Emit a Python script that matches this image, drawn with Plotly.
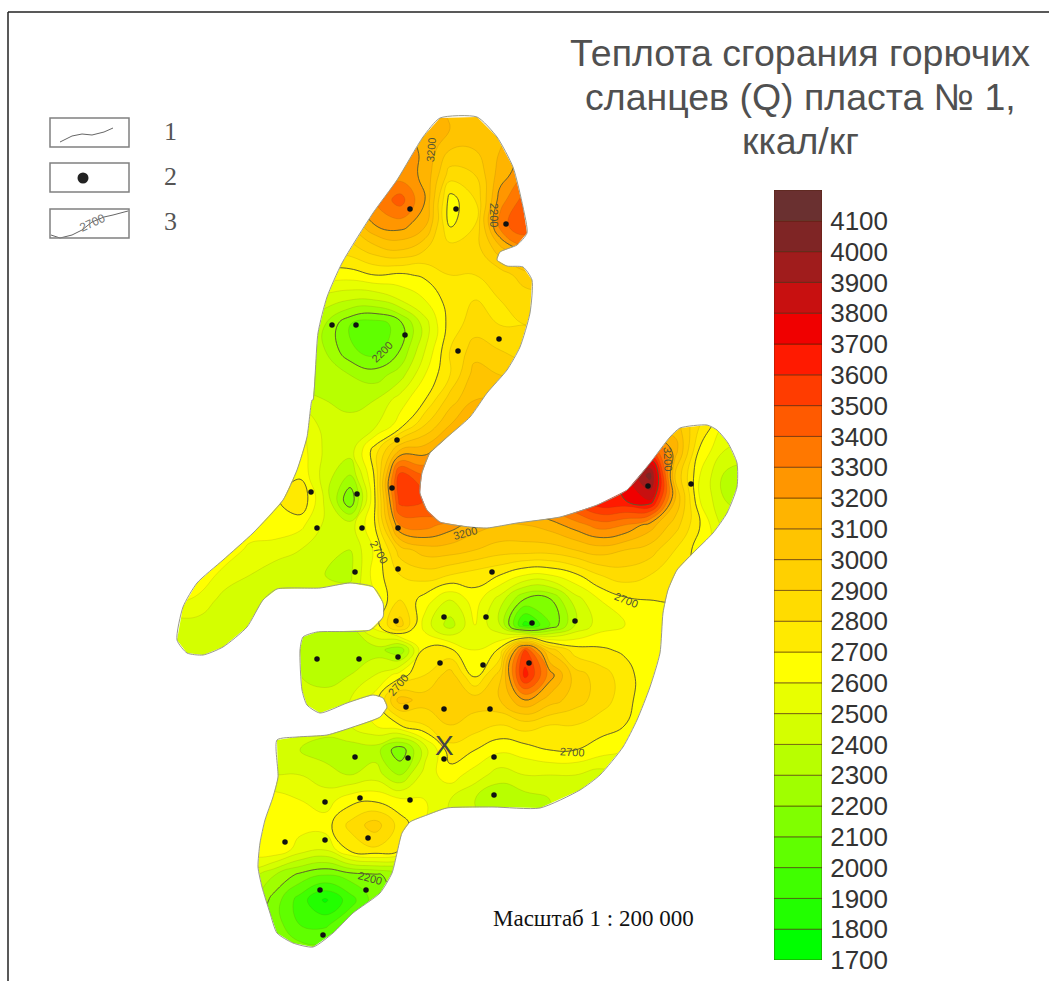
import plotly.graph_objects as go

_ = None
grid_x = [150, 175, 200, 225, 250, 275, 300, 325, 350, 375, 400, 425, 450, 475, 500, 525, 550, 575, 600, 625, 650, 675, 700, 725, 750]
grid_y = [100, 125, 150, 175, 200, 225, 250, 275, 300, 325, 350, 375, 400, 425, 450, 475, 500, 525, 550, 575, 600, 625, 650, 675, 700, 725, 750, 775, 800, 825, 850, 875, 900, 925, 950]
heat_q = [
 [_,_,_,_,_,_,_,_,_,_,_,3100,3100,3100,3050,_,_,_,_,_,_,_,_,_,_],
 [_,_,_,_,_,_,_,_,_,_,3200,3130,3100,3100,3050,_,_,_,_,_,_,_,_,_,_],
 [_,_,_,_,_,_,_,_,_,_,3250,3180,3000,3000,3100,3200,_,_,_,_,_,_,_,_,_],
 [_,_,_,_,_,_,_,_,_,3200,3250,3180,2850,2900,3150,3280,_,_,_,_,_,_,_,_,_],
 [_,_,_,_,_,_,_,_,3100,3300,3450,3200,2650,2800,3250,3450,_,_,_,_,_,_,_,_,_],
 [_,_,_,_,_,_,_,_,3000,3200,3250,3120,2680,2800,3350,3500,_,_,_,_,_,_,_,_,_],
 [_,_,_,_,_,_,_,2800,2850,2950,3000,2900,2850,2850,3050,3250,_,_,_,_,_,_,_,_,_],
 [_,_,_,_,_,_,_,2650,2650,2700,2680,2720,2800,2800,2850,2950,3000,_,_,_,_,_,_,_,_],
 [_,_,_,_,_,_,2500,2450,2400,2400,2500,2600,2750,2800,2800,2850,2850,_,_,_,_,_,_,_,_],
 [_,_,_,_,_,_,2400,2300,2100,2030,2150,2450,2750,2850,2800,2800,2800,_,_,_,_,_,_,_,_],
 [_,_,_,_,_,_,2350,2300,2120,2050,2200,2500,2800,2950,2900,2850,_,_,_,_,_,_,_,_,_],
 [_,_,_,_,_,_,2350,2350,2300,2250,2350,2600,2800,3050,3000,_,_,_,_,_,_,_,_,_,_],
 [_,_,_,_,_,_,2450,2400,2380,2400,2550,2700,2950,3100,3100,_,_,_,_,_,_,_,_,_,_],
 [_,_,_,_,_,2550,2620,2450,2420,2480,2650,2900,3100,_,_,_,_,_,_,_,3000,3050,2800,2600,_],
 [_,_,_,_,_,2650,2650,2480,2450,2750,3100,3150,3300,_,_,_,_,_,_,3400,3500,3150,2680,2500,2450],
 [_,_,_,_,_,2650,2680,2450,2300,2720,3550,3400,_,_,_,_,_,_,3500,3750,4050,3000,2600,2380,2350],
 [_,_,_,_,2620,2680,2800,2480,2100,2700,3550,3500,3600,_,3400,3300,3400,3550,3700,3700,3800,3100,2600,2400,2350],
 [_,_,_,2600,2650,2680,2630,2480,2450,2700,3300,3350,3250,3150,3100,3100,3150,3250,3350,3300,3150,2950,2700,2450,_],
 [_,_,2620,2650,2580,2540,2500,2450,2400,2620,2950,3050,3050,3000,2950,2950,2950,3000,3050,3000,2950,2800,2650,_,_],
 [_,2650,2650,2570,2500,2450,2450,2400,2380,2650,2800,2850,2800,2750,2700,2600,2600,2680,2800,2850,2800,2750,_,_,_],
 [_,2620,2580,2450,2450,2450,2450,_,_,2600,2800,2650,2500,2650,2450,2180,2180,2450,2600,2680,2700,2700,_,_,_],
 [2450,2450,2450,2450,2450,_,2400,2350,2400,2650,2950,2550,2350,2600,2400,1850,2100,2400,2550,2600,2650,_,_,_,_],
 [_,2450,2450,2450,_,_,2400,2350,2350,2350,2220,2720,2720,2600,2720,3500,2950,2750,2720,2680,2620,_,_,_,_],
 [_,_,_,_,_,_,2400,2350,2400,2500,2650,2800,2950,2680,2950,3650,3250,2950,2850,2750,2620,_,_,_,_],
 [_,_,_,_,_,_,2450,2450,2500,2650,3050,2950,3000,2950,3000,3200,3050,2950,2850,2750,2600,_,_,_,_],
 [_,_,_,_,_,2480,2450,2450,2500,2600,2700,2800,2900,2850,2800,2850,2800,2800,2750,2700,2600,_,_,_,_],
 [_,_,_,_,2450,2450,2400,2350,2350,2350,2120,2450,2760,2700,2620,2650,2700,2700,2650,2600,_,_,_,_,_],
 [_,_,_,_,2500,2500,2500,2450,2400,2450,2300,2550,2650,2550,2450,2500,2500,2500,2450,_,_,_,_,_,_],
 [_,_,_,_,2650,2650,2600,2550,2660,2680,2620,2600,2500,2400,2300,2350,2400,_,_,_,_,_,_,_,_],
 [_,_,_,_,2680,2680,2640,2650,2830,2950,2760,2600,_,_,_,_,_,_,_,_,_,_,_,_,_],
 [_,_,_,_,2650,2680,2550,2500,2720,2780,2700,_,_,_,_,_,_,_,_,_,_,_,_,_,_],
 [_,_,_,_,2450,2300,2170,2100,2150,2180,2250,_,_,_,_,_,_,_,_,_,_,_,_,_,_],
 [_,_,_,_,2350,2150,1950,1780,1950,2150,_,_,_,_,_,_,_,_,_,_,_,_,_,_,_],
 [_,_,_,_,_,2150,2000,1980,2100,_,_,_,_,_,_,_,_,_,_,_,_,_,_,_,_],
 [_,_,_,_,_,2200,2150,2150,2200,_,_,_,_,_,_,_,_,_,_,_,_,_,_,_,_],
]
band_colors = ["#00ff00", "#00ff00", "#22ff00", "#40ff00", "#60ff00", "#80ff00", "#a0ff00", "#b8ff00", "#d4ff00", "#e8ff00",
               "#ffff00", "#ffea00", "#ffdc00", "#ffd000", "#ffc400", "#ffb400", "#ff9600", "#ff7800", "#ff5a00", "#ff3c00",
               "#ff1a00", "#f00000", "#c81010", "#a01c1c", "#7f2525", "#6a3030", "#6a3030"]
band_floor = list(range(1700, 4200, 100))
band_height = [100] * 25
tick_vals = list(range(1700, 4200, 100))

outline_x = [423,440,477,497,513,523,527,517,500,497,507,523,532,530,520,507,487,470,430,422,420,427,440,470,487,517,560,597,627,650,670,680,707,717,728,737,737,727,713,693,677,668,663,660,650,637,623,600,580,540,493,447,427,410,402,397,392,380,353,333,313,293,277,270,262,258,260,265,273,278,277,297,327,353,380,387,383,373,347,320,307,302,300,303,317,370,383,383,373,350,320,277,263,247,223,203,187,177,183,197,223,253,283,297,307,312,313,318,327,342,373,397,423]
outline_y = [137,118,117,137,167,207,233,245,252,260,266,267,280,313,347,370,393,417,453,473,493,510,522,527,528,523,517,505,490,463,437,428,425,430,443,463,487,513,533,553,570,590,613,653,687,720,747,775,790,808,807,808,815,822,833,853,873,893,913,933,947,943,933,913,887,867,843,820,797,777,740,737,735,727,717,707,698,695,703,713,705,690,650,637,632,630,617,603,587,583,588,589,600,627,647,655,653,640,607,583,560,533,500,470,437,400,400,333,297,263,213,180,137]
well_x = [410,456,506,332,356,405,458,499,397,311,357,392,317,362,398,355,398,396,444,317,359,398,440,648,691,492,486,532,575,483,529,490,406,444,355,408,444,494,325,360,410,494,285,325,368,320,366,323]
well_y = [209,209,224,325,325,335,351,339,440,492,494,488,528,528,528,572,569,621,617,659,659,657,663,486,484,572,617,623,621,665,663,709,707,709,757,758,759,757,802,798,800,795,842,840,838,890,890,935]
label_text = ["3200","2200","2200","3200","2700","2700","2700","2700","2200","3200"]
label_x = [431,494,382,465,379,626,398,572,370,668]
label_y = [150,215,352,533,552,600,685,752,878,459]
label_rot = [-85,90,-45,-15,60,22,-50,3,15,88]
title_lines = ["Теплота сгорания горючих", "сланцев (Q) пласта № 1,", "ккал/кг"]
title_y = [53, 97, 141]
legend_numbers = ["1", "2", "3"]
legend_number_y = [131, 176, 221]
legend_box_top = [118, 163, 209]
sample_line_x = [60, 72, 82, 92, 104, 113]
sample_line_y = [142, 136, 134, 135, 132, 128]
sample_iso_x = [51, 60, 72, 82, 92, 104, 113, 128]
sample_iso_y = [235, 238, 235, 230, 222, 217, 215, 211]

W, H = 1049, 981
fig = go.Figure()
n = len(band_colors) - 1
fig.add_trace(go.Contour(
    x=grid_x, y=grid_y, z=heat_q, connectgaps=True, autocontour=False, showscale=False,
    contours=dict(start=1700, end=4200, size=100, coloring="fill", showlines=True),
    line=dict(color="rgba(110,70,20,0.2)", width=0.7, smoothing=1.3),
    colorscale=[[i / n, c] for i, c in enumerate(band_colors)],
    hoverinfo="skip",
))
fig.add_trace(go.Contour(
    x=grid_x, y=grid_y, z=heat_q, connectgaps=True, autocontour=False, showscale=False,
    contours=dict(start=2200, end=3700, size=500, coloring="none"),
    line=dict(color="#5a5a30", width=0.9, smoothing=1.3), hoverinfo="skip",
))
mask_x = [0, 0, W, W, 0, None] + outline_x
mask_y = [0, H, H, 0, 0, None] + outline_y
fig.add_trace(go.Scatter(x=mask_x, y=mask_y, mode="lines", fill="toself", fillcolor="white",
                         line=dict(color="rgba(255,255,255,0)", width=0), hoverinfo="skip"))
fig.add_trace(go.Scatter(x=outline_x, y=outline_y, mode="lines",
                         line=dict(color="#9a9a8a", width=1, shape="spline", smoothing=0.6), hoverinfo="skip"))
fig.add_trace(go.Scatter(x=well_x, y=well_y, mode="markers", marker=dict(color="#111111", size=5.5), hoverinfo="skip"))
fig.add_trace(go.Scatter(x=sample_line_x, y=sample_line_y, mode="lines", line=dict(color="#666666", width=1), hoverinfo="skip"))
fig.add_trace(go.Scatter(x=sample_iso_x, y=sample_iso_y, mode="lines", line=dict(color="#666666", width=1), hoverinfo="skip"))
fig.add_trace(go.Scatter(x=[83], y=[178], mode="markers", marker=dict(color="#222222", size=11), hoverinfo="skip"))
fig.add_trace(go.Bar(x=[0] * len(band_floor), y=band_height, base=band_floor, width=1,
                     marker=dict(color=band_colors[1:26], line=dict(color="rgba(70,30,0,0.55)", width=1)),
                     xaxis="x2", yaxis="y2", hoverinfo="skip"))

ann = []
for t, x, y, r in zip(label_text, label_x, label_y, label_rot):
    ann.append(dict(x=x, y=y, text=t, textangle=r, showarrow=False, font=dict(family="Liberation Sans", size=11, color="#555533")))
for t, y in zip(title_lines, title_y):
    ann.append(dict(x=800, y=y, text=t, showarrow=False, font=dict(family="Liberation Sans", size=37.5, color="#505050")))
for t, y in zip(legend_numbers, legend_number_y):
    ann.append(dict(x=170, y=y, text=t, showarrow=False, font=dict(family="Liberation Serif", size=26, color="#555555")))
ann.append(dict(x=92, y=223, text="2700", textangle=-25, showarrow=False, font=dict(family="Liberation Sans", size=12, color="#777777")))
ann.append(dict(x=444, y=745, text="X", showarrow=False, font=dict(family="Liberation Sans", size=28, color="#444444")))
ann.append(dict(x=593, y=918, text="Масштаб 1 : 200 000", showarrow=False, font=dict(family="Liberation Serif", size=23, color="#111111")))

shapes = [dict(type="rect", x0=50, x1=129, y0=t, y1=t + 29, line=dict(color="#808080", width=1.5)) for t in legend_box_top]
shapes.append(dict(type="line", x0=8, x1=W, y0=12, y1=12, line=dict(color="#222222", width=1.5)))
shapes.append(dict(type="line", x0=8, x1=8, y0=12, y1=H, line=dict(color="#222222", width=1.5)))

fig.update_layout(
    width=W, height=H, margin=dict(l=0, r=0, t=0, b=0, autoexpand=False), showlegend=False,
    paper_bgcolor="white", plot_bgcolor="rgba(0,0,0,0)", barmode="overlay",
    xaxis=dict(range=[0, W], visible=False, domain=[0, 1]), yaxis=dict(range=[H, 0], visible=False, domain=[0, 1]),
    xaxis2=dict(domain=[774 / W, 822 / W], range=[-0.5, 0.5], visible=False, anchor="y2"),
    yaxis2=dict(domain=[1 - 960 / H, 1 - 190 / H], range=[1700, 4200], anchor="x2", side="right",
                tickvals=tick_vals, ticktext=[str(t) for t in tick_vals], showgrid=False, zeroline=False, showline=False,
                ticks="outside", ticklen=2, tickcolor="rgba(0,0,0,0)",
                tickfont=dict(family="Liberation Sans", size=26, color="#333333")),
    annotations=ann, shapes=shapes,
)
fig.write_html("out.html", config=dict(displayModeBar=False), post_script="document.body.style.margin='0';document.body.style.overflow='hidden';")
